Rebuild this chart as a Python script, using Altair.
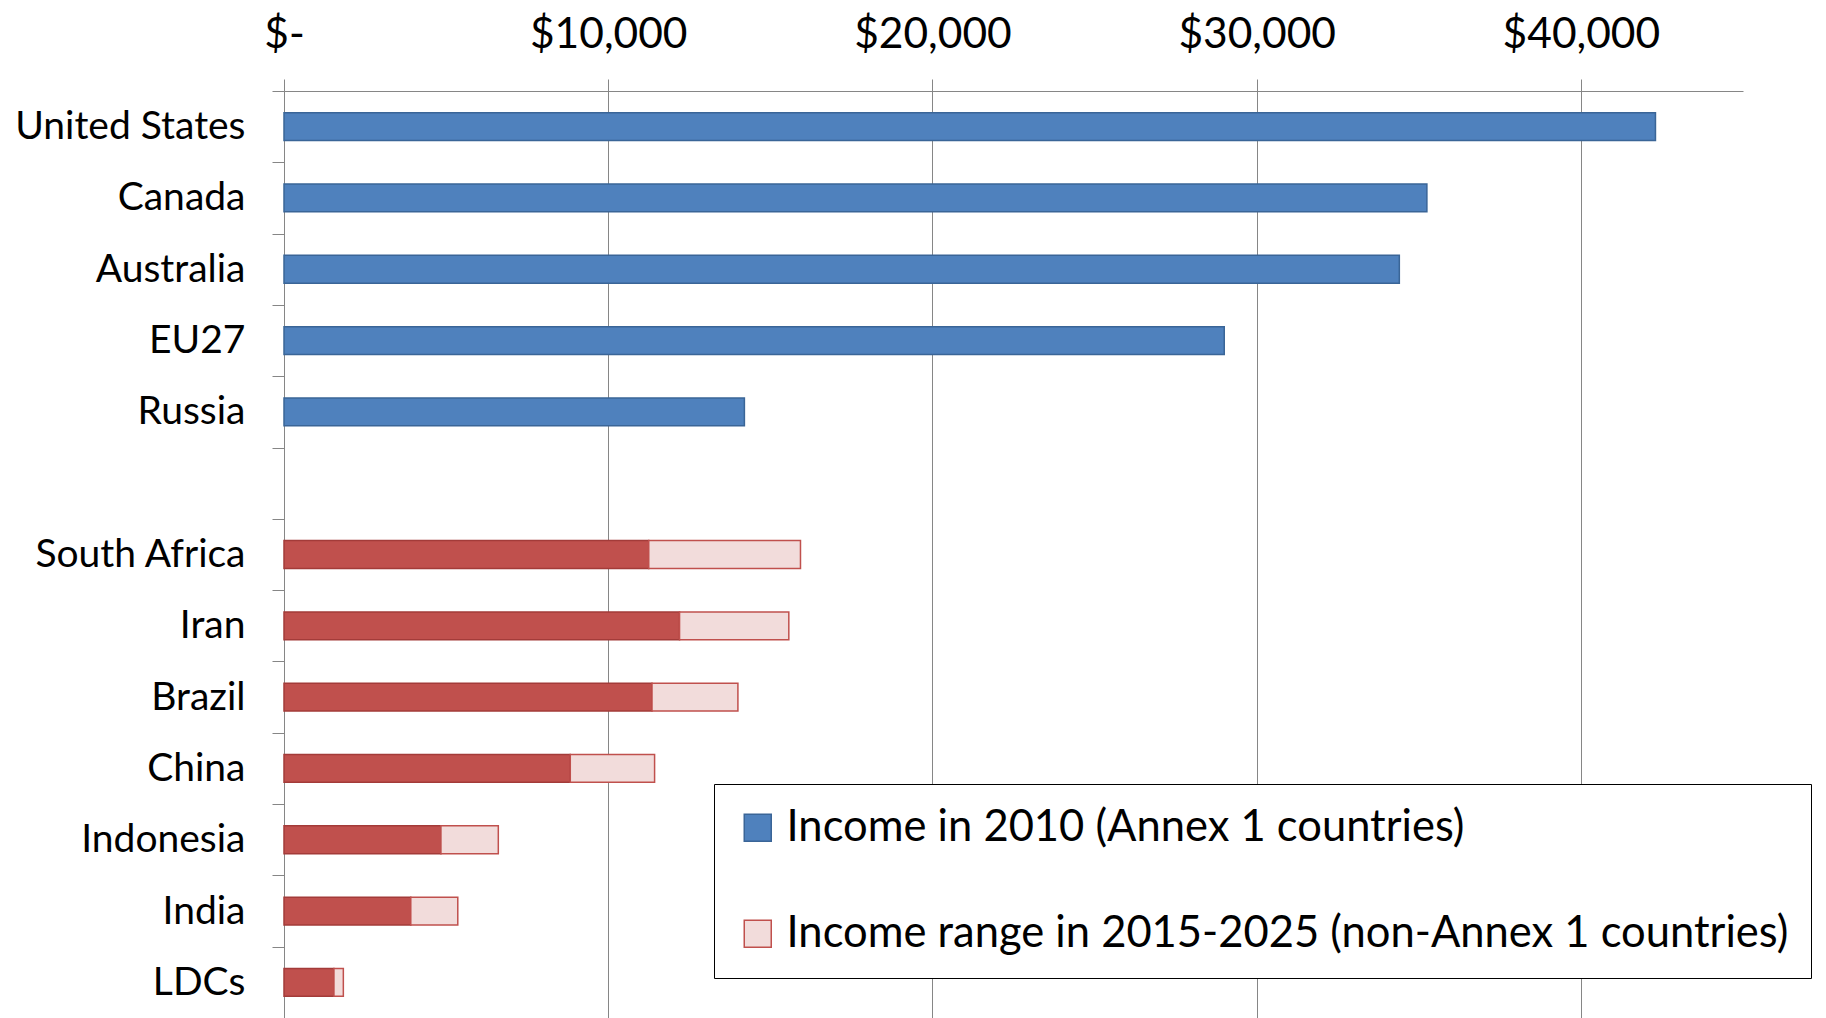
import altair as alt
import pandas as pd

# ---- data ----
annex_countries = ["United States", "Canada", "Australia", "EU27", "Russia"]
annex_income = [42300, 35250, 34400, 29000, 14200]

nonannex_countries = ["South Africa", "Iran", "Brazil", "China", "Indonesia", "India", "LDCs"]
range_low = [11250, 12200, 11350, 8830, 4840, 3910, 1540]
range_high = [15930, 15570, 14000, 11430, 6610, 5360, 1830]

gap_label = " "
x_ticks = [0, 10000, 20000, 30000, 40000]

legend_annex = "Income in 2010 (Annex 1 countries)"
legend_range = "Income range in 2015-2025 (non-Annex 1 countries)"

order = annex_countries + [gap_label] + nonannex_countries

legend_df = pd.concat([
    pd.DataFrame({"country": annex_countries, "start": [0] * len(annex_countries),
                  "end": annex_income, "series": legend_annex}),
    pd.DataFrame({"country": nonannex_countries, "start": range_low,
                  "end": range_high, "series": legend_range}),
], ignore_index=True)

low_df = pd.DataFrame({"country": nonannex_countries,
                       "start": [0] * len(nonannex_countries), "end": range_low})

FONT = "Lato"
GRID = "#868686"

y_enc = alt.Y(
    "country:N",
    sort=order,
    scale=alt.Scale(domain=order, paddingInner=0, paddingOuter=0),
    axis=alt.Axis(
        title=None, tickBand="extent", tickSize=12, tickColor=GRID, domainColor=GRID,
        labelFont=FONT, labelFontSize=39, labelColor="#000000", labelPadding=27,
        labelLimit=500, grid=False,
    ),
)

x_enc = alt.X(
    "start:Q",
    scale=alt.Scale(domain=[0, 45000], nice=False, zero=True),
    axis=alt.Axis(
        orient="top", values=x_ticks, title=None,
        labelExpr="datum.value == 0 ? '$-' : '$' + format(datum.value, ',')",
        grid=True, gridColor=GRID, gridWidth=1, domainColor=GRID, tickColor=GRID,
        tickSize=12, labelFont=FONT, labelFontSize=42.5, labelColor="#000000",
        labelPadding=23, labelFlush=False, labelOverlap=False,
    ),
)

bar_h = alt.RelativeBandSize(band=0.39)

legend = alt.Legend(
    title=None, orient="none", legendX=430, legendY=693, direction="vertical",
    symbolType="square", symbolSize=729, symbolStrokeWidth=1.5,
    labelFont=FONT, labelFontSize=43.5, labelColor="#000000", labelLimit=2000,
    labelOffset=7, rowPadding=61, padding=22, strokeColor="#000000",
    fillColor="#ffffff", cornerRadius=0,
)

main = alt.Chart(legend_df).mark_bar(height=bar_h, strokeWidth=1.5).encode(
    x=x_enc,
    x2="end:Q",
    y=y_enc,
    color=alt.Color("series:N",
                    scale=alt.Scale(domain=[legend_annex, legend_range],
                                    range=["#4F81BD", "#F2DCDB"]),
                    legend=legend),
    stroke=alt.Stroke("series:N",
                      scale=alt.Scale(domain=[legend_annex, legend_range],
                                      range=["#3A6597", "#C0504D"]),
                      legend=legend),
)

low = alt.Chart(low_df).mark_bar(height=bar_h, color="#C0504D",
                                 stroke="#A33B39", strokeWidth=1.5).encode(
    x=alt.X("start:Q"),
    x2="end:Q",
    y=alt.Y("country:N", sort=order),
)

chart = alt.layer(low, main).properties(
    width=1459, height=927,
    background="#ffffff",
    autosize=alt.AutoSizeParams(type="none"),
    padding={"left": 276, "top": 83, "right": 75, "bottom": 5},
).configure_view(stroke=None)

chart.save("out.html", embed_options={"renderer": "svg", "actions": False})
